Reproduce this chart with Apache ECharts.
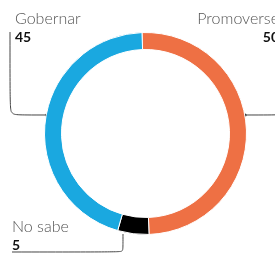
<!DOCTYPE html>
<html>
<head>
<meta charset="utf-8">
<script src="https://cdn.jsdelivr.net/npm/echarts@6/dist/echarts.min.js"></script>
<style>
  html, body { margin: 0; padding: 0; background: #fff; }
  #chart { width: 275px; height: 254px; }
</style>
</head>
<body>
<div id="chart"></div>
<script>
// datos de la encuesta
const categories = ['Promoverse', 'No sabe', 'Gobernar'];
const values = [50, 5, 45];
const colors = ['#ee7044', '#000000', '#1aa8e0'];

// posición de cada etiqueta y su línea guía
const labelSpots = [
  { x: 279, y: 8.5, align: 'right', line: [[245, 115], [290, 115], [290, 40]] },
  { x: 12, y: 216.5, align: 'left', line: [[123, 234], [123, 252], [12, 252]] },
  { x: 15, y: 8.5, align: 'left', line: [[46.7, 115], [10, 115], [10, 32]] }
];

const chart = echarts.init(document.getElementById('chart'));

const option = {
  animation: false,
  series: [
    {
      type: 'pie',
      center: [145.5, 133.5],
      radius: [84, 101],
      startAngle: 92,
      clockwise: true,
      avoidLabelOverlap: false,
      itemStyle: {
        borderColor: '#fff',
        borderWidth: 1
      },
      label: {
        show: true,
        formatter: p => '{n|' + p.name + '}\n{v|' + p.value + '}',
        rich: {
          n: { fontFamily: 'Lato', fontWeight: 300, fontSize: 16, color: '#555', lineHeight: 20 },
          v: { fontFamily: 'Lato', fontWeight: 'bold', fontSize: 14, color: '#111', lineHeight: 17 }
        }
      },
      labelLine: {
        show: true,
        smooth: 0.12,
        lineStyle: { color: '#444', width: 1 }
      },
      labelLayout: p => {
        const s = labelSpots[p.dataIndex];
        return {
          x: s.x,
          y: s.y,
          align: s.align,
          verticalAlign: 'top',
          labelLinePoints: s.line
        };
      },
      data: categories.map((name, i) => ({
        name: name,
        value: values[i],
        itemStyle: { color: colors[i] }
      }))
    }
  ],
  graphic: [
    { type: 'circle', shape: { cx: 46.7, cy: 115, r: 1.6 }, style: { fill: '#222' } },
    { type: 'circle', shape: { cx: 245, cy: 115, r: 1.6 }, style: { fill: '#222' } }
  ]
};

chart.setOption(option);
</script>
</body>
</html>
